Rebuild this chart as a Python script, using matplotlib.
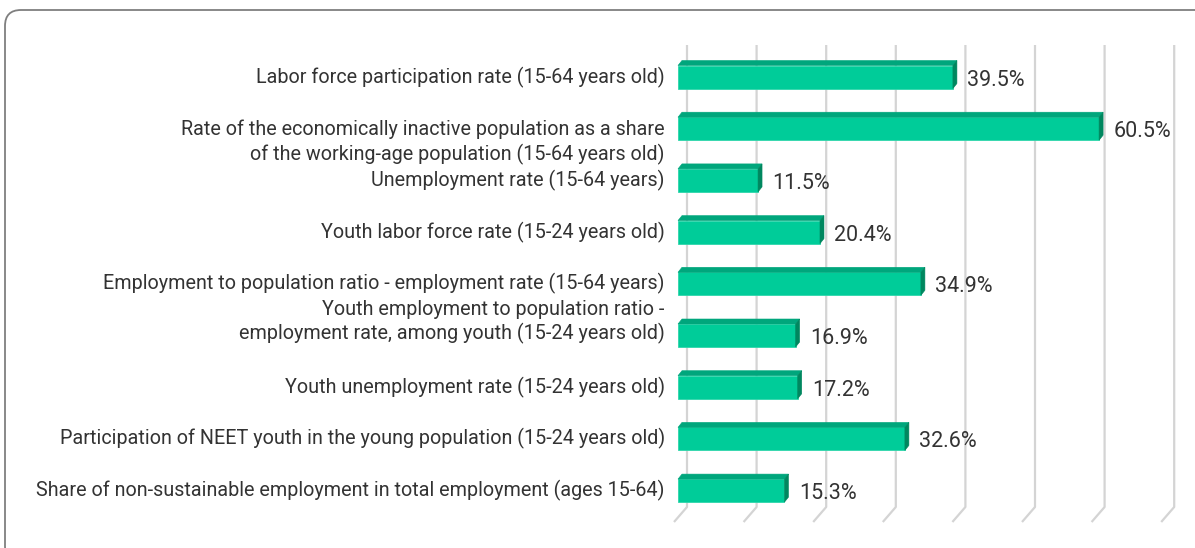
import matplotlib.pyplot as plt
import matplotlib.transforms as mtransforms
from matplotlib.patches import Polygon, FancyBboxPatch

plt.rcParams['font.family'] = ['Roboto', 'DejaVu Sans']

categories = [
    "Labor force participation rate (15-64 years old)",
    "Rate of the economically inactive population as a share\nof the working-age population (15-64 years old)",
    "Unemployment rate (15-64 years)",
    "Youth labor force rate (15-24 years old)",
    "Employment to population ratio - employment rate (15-64 years)",
    "Youth employment to population ratio -\nemployment rate, among youth (15-24 years old)",
    "Youth unemployment rate (15-24 years old)",
    "Participation of NEET youth in the young population (15-24 years old)",
    "Share of non-sustainable employment in total employment (ages 15-64)",
]
values = [39.5, 60.5, 11.5, 20.4, 34.9, 16.9, 17.2, 32.6, 15.3]
value_labels = ["39.5%", "60.5%", "11.5%", "20.4%", "34.9%", "16.9%", "17.2%", "32.6%", "15.3%"]
grid_ticks = [0, 10, 20, 30, 40, 50, 60, 70]

# vertical nudges (px) for the wrapped labels
label_dy = [0, 14, 0, 0, 0, -13.5, 0, 0, 0]

W, H = 1195, 548
fig = plt.figure(figsize=(W / 100, H / 100), dpi=100)

# pixel geometry of the plot area
px_per_pct = 6.96
px_per_row = 51.7
x0_px, row0_px = 678, 77
ax_left_px, ax_right_px = 664, 1191
ax_top_px, ax_bot_px = 30, 535
xl = ((ax_left_px - x0_px) / px_per_pct, (ax_right_px - x0_px) / px_per_pct)
yl = ((ax_bot_px - row0_px) / px_per_row, (ax_top_px - row0_px) / px_per_row)

ax = fig.add_axes([ax_left_px / W, 1 - ax_bot_px / H,
                   (ax_right_px - ax_left_px) / W, (ax_bot_px - ax_top_px) / H])
ax.set_xlim(*xl)
ax.set_ylim(*yl)
ax.axis('off')

# frame around the chart
frame = FancyBboxPatch((5, -14), 1206, 552, boxstyle="round,pad=0,rounding_size=16",
                       transform=mtransforms.IdentityTransform(), fill=False,
                       edgecolor='#7f7f7f', linewidth=1.3)
fig.patches.append(frame)

def px2x(p):
    return p / px_per_pct

def px2y(p):
    return p / px_per_row

# gridlines: back wall vertical + floor diagonal
gtop = px2y(45 - row0_px)
gbot = px2y(507 - row0_px)
gfront = px2y(522 - row0_px)
for t in grid_ticks:
    xb = t + px2x(9)
    xf = t - px2x(4)
    ax.plot([xb, xb, xf], [gtop, gbot, gfront], color='#d4d4d4', lw=1.6,
            solid_capstyle='butt', zorder=1)

# 3D-ish bars
front_c, top_c, side_c = '#00cc99', '#00a67c', '#00875f'
hh = px2y(11.5)
dx, dy = px2x(4), px2y(5)
for i, (v, lab, cat) in enumerate(zip(values, value_labels, categories)):
    top, bot = i - hh, i + hh
    ax.add_patch(Polygon([(0, bot), (v, bot), (v, top), (0, top)], closed=True,
                         facecolor=front_c, edgecolor='#2ed6ab', lw=0.6, zorder=3))
    ax.add_patch(Polygon([(0, top), (v, top), (v + dx, top - dy), (dx, top - dy)], closed=True,
                         facecolor=top_c, edgecolor=top_c, lw=0.4, zorder=3))
    ax.add_patch(Polygon([(v, top), (v + dx, top - dy), (v + dx, bot - dy), (v, bot)], closed=True,
                         facecolor=side_c, edgecolor=side_c, lw=0.4, zorder=3))
    ax.annotate(lab, (v + dx, i), xytext=(7.5, -2.2), textcoords='offset points',
                ha='left', va='center', fontsize=15.5, color='#333333')
    ax.annotate(cat, (0, i), xytext=(-9.5, -label_dy[i] * 0.72), textcoords='offset points',
                ha='right', va='center', fontsize=14.2, color='#333333', linespacing=1.3)

fig.savefig('out.png', dpi=100)
